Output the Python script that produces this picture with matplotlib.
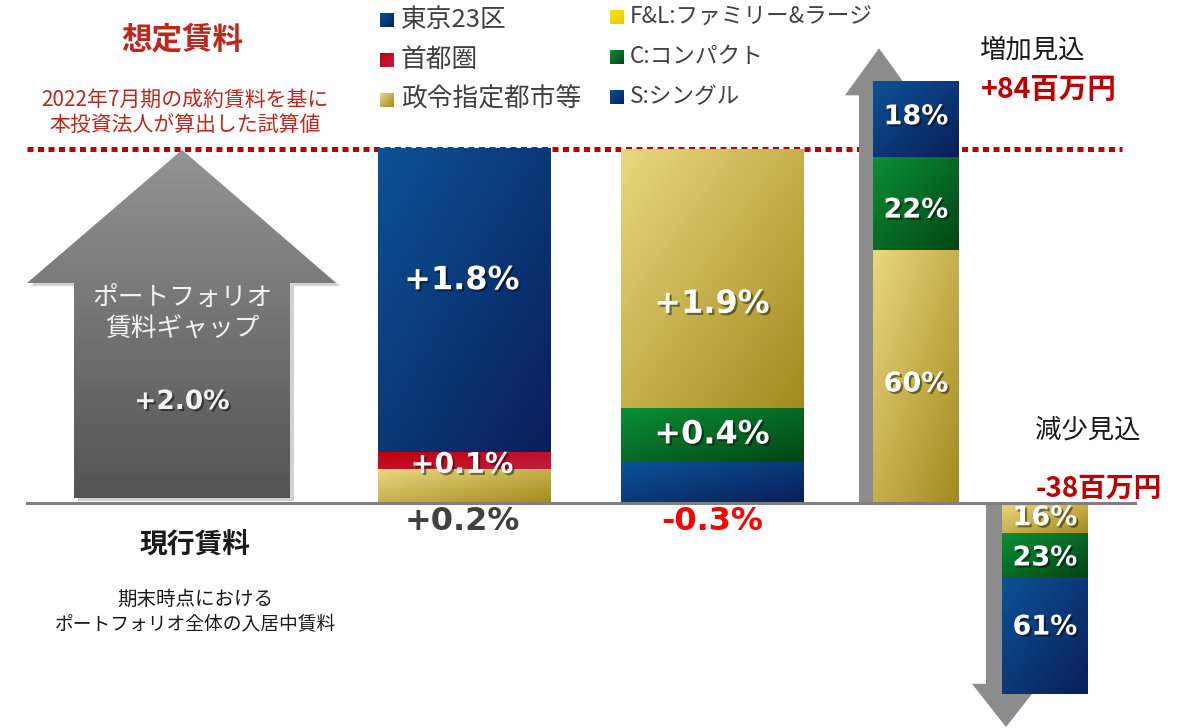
import numpy as np
import matplotlib
matplotlib.use('Agg')
import matplotlib.pyplot as plt
from matplotlib.patches import Polygon
from matplotlib.colors import to_rgb
import matplotlib.patheffects as pe

plt.rcParams['font.family'] = ['Noto Sans CJK JP', 'DejaVu Sans']

# data
gap_total = 2.0
region_names = ['東京23区', '首都圏', '政令指定都市等']
region_values = [1.8, 0.1, 0.2]
type_names = ['F&L:ファミリー&ラージ', 'C:コンパクト', 'S:シングル']
type_values = [1.9, 0.4, -0.3]
increase_total = 84      # 百万円
increase_share = [60, 22, 18]   # F&L, C, S
decrease_total = -38
decrease_share = [16, 23, 61]   # F&L, C, S

# colours (light -> dark gradient)
BLUE = ('#0C5296', '#0A1E5A')
GOLD = ('#EAD77F', '#A28A1C')
GREEN = ('#0B8F35', '#034516')
RED = ('#C4000C', '#BE2040')
YELLOW = ('#FFE600', '#E8C800')
region_cols = [BLUE, RED, GOLD]
type_cols = [GOLD, GREEN, BLUE]

# layout (pixels)
W, H = 1197, 728
BASE_Y = 503
TOP_Y = 149
MONEY_PX = 5.02   # px per 百万円

shadow = [pe.withSimplePatchShadow(offset=(1.5, -1.5), shadow_rgbFace='k', alpha=0.45)]
NUM = ['DejaVu Sans']


def gradient(ax, x0, y0, x1, y1, cols, clip=None, z=4, vertical=False):
    u = np.linspace(0, 1, 64)
    xx, yy = np.meshgrid(u, u)
    t = yy if vertical else (xx + yy) / 2
    a = np.array(to_rgb(cols[0]))
    b = np.array(to_rgb(cols[1]))
    img = a + (b - a) * t[..., None]
    im = ax.imshow(img, extent=(x0, x1, y1, y0), origin='upper', aspect='auto',
                   interpolation='bilinear', zorder=z)
    if clip is not None:
        im.set_clip_path(clip)
    return im


fig = plt.figure(figsize=(W / 100, H / 100), dpi=100)
ax = fig.add_axes([0, 0, 1, 1])
ax.axis('off')

# big gray arrow (portfolio gap)
arrow_pts = [(74, BASE_Y - 5), (74, 283), (27, 283), (182, TOP_Y + 1), (336, 283),
             (290, 283), (290, BASE_Y - 5)]
sh = Polygon([(x + 4, y + 3) for x, y in arrow_pts], closed=True, fc='k', ec='none',
             alpha=0.18, zorder=1)
ax.add_patch(sh)
poly = Polygon(arrow_pts, closed=True, fc='none', ec='none', zorder=2)
ax.add_patch(poly)
gradient(ax, 27, TOP_Y, 336, BASE_Y - 5, ('#939393', '#545454'), clip=poly, z=2, vertical=True)
ax.text(183, 314, 'ポートフォリオ\n賃料ギャップ', ha='center', va='center', fontsize=18.5,
        color='#F2F2F2', linespacing=1.3, zorder=6)
ax.text(182, 402, '+%.1f%%' % gap_total, ha='center', va='center', fontsize=19,
        fontweight='bold', color='#F2F2F2', family=NUM, path_effects=shadow, zorder=6)

# dotted target line and baseline
ax.plot([27, 1122], [TOP_Y, TOP_Y], color='#C00000', lw=3.6, ls=(0, (1.2, 0.9)),
        solid_capstyle='butt', dash_capstyle='butt', zorder=3)
ax.plot([27, 1135], [BASE_Y, BASE_Y], color='#7F7F7F', lw=2.2, zorder=7)

gap_px = BASE_Y - TOP_Y

# column 1: by region, stacked bottom -> top: 政令, 首都圏, 東京23区
abs_r = np.abs(region_values)
h_r = abs_r / abs_r.sum() * gap_px
y = BASE_Y
seg1 = {}
for i in [2, 1, 0]:
    gradient(ax, 378, y - h_r[i], 551, y, region_cols[i])
    seg1[i] = (y - h_r[i], y)
    y -= h_r[i]
ax.text(462, (seg1[0][0] + seg1[0][1]) / 2 - 20, '+%.1f%%' % region_values[0], ha='center',
        va='center', fontsize=23, fontweight='bold', color='white', family=NUM,
        path_effects=shadow, zorder=6)
ax.text(462, (seg1[1][0] + seg1[1][1]) / 2 + 4, '+%.1f%%' % region_values[1], ha='center',
        va='center', fontsize=20.5, fontweight='bold', color='white', family=NUM,
        path_effects=shadow, zorder=6)
ax.text(462, 522, '+%.1f%%' % region_values[2], ha='center', va='center', fontsize=23,
        fontweight='bold', color='#404040', family=NUM, zorder=6)

# column 2: by type, stacked bottom -> top: S, C, F&L
abs_t = np.abs(type_values)
h_t = abs_t / abs_t.sum() * gap_px
y = BASE_Y
seg2 = {}
for i in [2, 1, 0]:
    gradient(ax, 621, y - h_t[i], 804, y, type_cols[i])
    seg2[i] = (y - h_t[i], y)
    y -= h_t[i]
ax.text(712, (seg2[0][0] + seg2[0][1]) / 2 + 26, '+%.1f%%' % type_values[0], ha='center',
        va='center', fontsize=23, fontweight='bold', color='white', family=NUM,
        path_effects=shadow, zorder=6)
ax.text(712, (seg2[1][0] + seg2[1][1]) / 2, '+%.1f%%' % type_values[1], ha='center',
        va='center', fontsize=23, fontweight='bold', color='white', family=NUM,
        path_effects=shadow, zorder=6)
ax.text(712, 522, '%.1f%%' % type_values[2], ha='center', va='center', fontsize=23,
        fontweight='bold', color='#FF0000', family=NUM, zorder=6)

# increase bar
inc_h = increase_total * MONEY_PX
inc_top = BASE_Y - inc_h
up = [(859, BASE_Y), (859, inc_top + 14), (845, inc_top + 14), (879, inc_top - 33),
      (913, inc_top + 14), (899, inc_top + 14), (899, BASE_Y)]
ax.add_patch(Polygon(up, closed=True, fc='#8C8C8C', ec='none', zorder=3.5))
y = BASE_Y
for share, cols, dy in zip(increase_share, type_cols, [8, 7, -2]):
    h = inc_h * share / 100
    gradient(ax, 873, y - h, 959, y, cols)
    ax.text(916, y - h / 2 + dy, '%d%%' % share, ha='center', va='center', fontsize=19.5,
            fontweight='bold', color='white', family=NUM, path_effects=shadow, zorder=6)
    y -= h

# decrease bar
dec_h = abs(decrease_total) * MONEY_PX
dn = [(986, BASE_Y), (986, BASE_Y + dec_h - 10), (972, BASE_Y + dec_h - 10), (1006, 727),
      (1040, BASE_Y + dec_h - 10), (1026, BASE_Y + dec_h - 10), (1026, BASE_Y)]
ax.add_patch(Polygon(dn, closed=True, fc='#8C8C8C', ec='none', zorder=3.5))
y = BASE_Y
for share, cols, dy in zip(decrease_share, type_cols, [0, 3, -8]):
    h = dec_h * share / 100
    gradient(ax, 1002, y, 1088, y + h, cols)
    ax.text(1045, y + h / 2 + dy, '%d%%' % share, ha='center', va='center', fontsize=19.5,
            fontweight='bold', color='white', family=NUM, path_effects=shadow, zorder=6)
    y += h

# right side texts
ax.text(1032, 50, '増加見込', ha='center', va='center', fontsize=19, color='#1A1A1A')
ax.text(1049, 90, '+%d百万円' % increase_total, ha='center', va='center', fontsize=20.5,
        fontweight='bold', color='#C00000')
ax.text(1088, 430, '減少見込', ha='center', va='center', fontsize=19, color='#1A1A1A')
ax.text(1099, 489, '%d百万円' % decrease_total, ha='center', va='center', fontsize=20,
        fontweight='bold', color='#C00000')

# left texts
ax.text(182, 40, '想定賃料', ha='center', va='center', fontsize=22, fontweight='bold',
        color='#C0261B')
ax.text(185, 100, '2022年7月期の成約賃料を基に', ha='center', va='center', fontsize=15,
        color='#C0261B')
ax.text(185, 125, '本投資法人が算出した試算値', ha='center', va='center', fontsize=15,
        color='#C0261B')
ax.text(195, 545, '現行賃料', ha='center', va='center', fontsize=20, fontweight='bold',
        color='#1A1A1A')
ax.text(195, 599, '期末時点における', ha='center', va='center', fontsize=14, color='#1A1A1A')
ax.text(195, 625, 'ポートフォリオ全体の入居中賃料', ha='center', va='center', fontsize=13.5,
        color='#1A1A1A')

# legends
for k, (name, cols) in enumerate(zip(region_names, region_cols)):
    yc = 20 + 40 * k
    gradient(ax, 380, yc - 7, 394, yc + 7, cols, z=6)
    ax.text(401, yc, name, ha='left', va='center', fontsize=18.5, color='#404040')
leg2_cols = [YELLOW, GREEN, BLUE]
for k, (name, cols) in enumerate(zip(type_names, leg2_cols)):
    yc = 17 + 40 * k
    gradient(ax, 610, yc - 7, 624, yc + 7, cols, z=6)
    ax.text(630, yc, name, ha='left', va='center', fontsize=16.3, color='#404040')

ax.set_xlim(0, W)
ax.set_ylim(H, 0)
fig.savefig('out.png', dpi=100)
